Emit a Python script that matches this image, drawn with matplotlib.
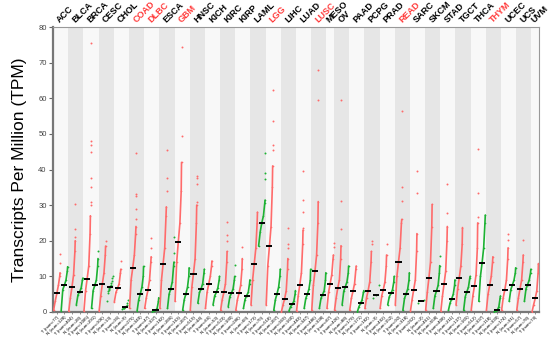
import matplotlib
matplotlib.use('Agg')
import matplotlib.pyplot as plt
import numpy as np

types = ['ACC', 'BLCA', 'BRCA', 'CESC', 'CHOL', 'COAD', 'DLBC', 'ESCA', 'GBM', 'HNSC',
         'KICH', 'KIRC', 'KIRP', 'LAML', 'LGG', 'LIHC', 'LUAD', 'LUSC', 'MESO', 'OV',
         'PAAD', 'PCPG', 'PRAD', 'READ', 'SARC', 'SKCM', 'STAD', 'TGCT', 'THCA', 'THYM',
         'UCEC', 'UCS', 'UVM']
red_types = ['COAD', 'DLBC', 'GBM', 'LGG', 'LUSC', 'READ', 'THYM']

tumor_n = [77, 404, 1085, 306, 36, 275, 47, 182, 163, 519, 66, 523, 286, 173, 518, 369,
           483, 486, 87, 426, 179, 182, 492, 92, 262, 461, 408, 137, 512, 118, 174, 57, 79]
normal_n = [128, 28, 291, 13, 9, 349, 337, 286, 207, 44, 53, 100, 60, 70, 207, 160,
            347, 338, None, 88, 171, 3, 152, 318, 2, 558, 211, 165, 337, 339, 91, 78, None]

# rank profile of each group: values at rank fractions 0, .25, .5 (median), .75, .95, 1
rank_fracs = [0.0, 0.25, 0.5, 0.75, 0.95, 1.0]
tumor_q = [
    [0.5, 3.0, 5.2, 7.5, 10, 11], [0.2, 4, 7.0, 10.5, 17, 20], [0.3, 6, 9.4, 13, 22, 27],
    [0.3, 4.5, 7.9, 11, 16, 18.5], [2.8, 5.5, 6.6, 8, 11, 12], [1, 9, 12.4, 16, 22, 24],
    [1, 4, 6.1, 9, 14, 15.5], [1, 9, 13.5, 18, 27, 29.5], [3, 14, 19.7, 25, 34, 42],
    [0.5, 7, 10.8, 15, 25, 30], [1, 5.5, 7.8, 10, 13, 14.3], [0.5, 3.5, 5.5, 8, 14, 17],
    [0.5, 3.5, 5.3, 7.5, 12, 15], [2, 9, 13.5, 18, 25, 28], [2, 13, 18.4, 24, 35, 41],
    [0, 2, 3.7, 6, 12, 15], [0.3, 4.5, 7.6, 11, 19, 23], [0.5, 7.5, 11.5, 16, 25, 31],
    [1, 5.5, 8.0, 10.5, 15, 16], [0.5, 4, 6.7, 9, 15, 18.6], [0.5, 3.8, 5.8, 8, 12, 12.9],
    [1, 4, 6.0, 8.5, 14, 17], [1, 4.5, 6.3, 8.5, 13, 16], [2, 10, 14.1, 18, 25, 26],
    [0.3, 3.5, 6.3, 9, 17, 22], [0.5, 5.5, 9.5, 14, 24, 30.2], [0.3, 4.5, 7.9, 11.5, 20, 24],
    [2, 6.5, 9.6, 13, 19, 23.7], [0.5, 4.5, 7.3, 10.5, 18, 25], [0.5, 5, 7.5, 10, 14, 15.5],
    [0.5, 4, 6.3, 9, 15, 18], [0.5, 4, 6.5, 9, 14, 16], [0, 2, 3.8, 6, 11, 13.6]]
tumor_out = [
    [13.7, 16.2], [21, 23.2, 30.2], [30, 31, 35, 37.5, 45, 47, 48, 75.6], [20], [14.3],
    [26, 29, 32.5, 33, 44.7], [18.1, 20.8], [34, 37.5, 45.5], [49.4, 74.5],
    [31, 36, 37.5, 38.2], [], [20, 21.5, 25.2], [18.3], [], [45.5, 47, 53.7, 62.4],
    [18, 19, 23.7], [23.7, 28, 31.4, 39.6], [59.4, 68], [18.3, 19.5], [23.3, 31.1, 59.5],
    [], [19, 20], [19], [31.2, 35, 56.3], [33.5, 39.6], [], [27.7, 35.8], [],
    [26.7, 33.5, 45.7], [], [20.2, 21.8], [20.2], []]

normal_q = [
    [0.3, 6.3, 7.5, 9, 11.5, 12.7], [2, 4.8, 5.6, 6.8, 9, 9.5], [1, 6, 7.5, 9, 13, 15],
    None, None, [0.3, 3.5, 5.1, 7, 10, 12.8],
    [0, 0.2, 0.45, 1, 3, 4], [1, 5, 6.5, 8.5, 13, 14], [0.5, 3.5, 5.1, 7, 10, 12.4],
    [2.5, 5.5, 6.5, 8, 11, 12], [2, 4.5, 5.5, 6.8, 9, 10], [1.5, 4.3, 5.3, 6.5, 9, 10],
    [1, 3.5, 4.6, 5.5, 8, 9], [18.5, 22.5, 25.1, 27, 30.5, 31.4], [0.5, 3.5, 5.1, 7, 10, 12],
    [0.3, 1.5, 2.2, 3, 5, 6], [1, 3.8, 5.0, 6.5, 9, 12], [1, 3.8, 4.9, 6, 9, 11],
    None, [2, 5.8, 7.1, 8.5, 11, 12.9], [0, 1.5, 2.4, 3.5, 5.5, 6],
    None, [2, 4.3, 5.2, 6.3, 8.5, 10], [0.5, 3.8, 5.1, 6.5, 9, 11],
    None, [1, 4.5, 5.9, 7.5, 11, 13], [0.5, 2.5, 3.7, 5, 7.5, 9],
    [0.5, 4.3, 5.7, 7, 9.5, 10], [3, 10, 13.7, 18, 25, 27.2], [0, 0.2, 0.45, 1.5, 4, 4.5],
    [3, 6.3, 7.6, 9, 11, 12.4], [3, 6.5, 7.7, 9, 11, 12], None]
normal_out = [
    [], [], [17], [], [], [], [], [16.5, 21.1], [], [], [], [13.1], [],
    [37.2, 39.1, 44.6], [], [], [], [], [], [], [], [], [], [], [], [15.7], [], [], [],
    [], [], [], []]
# groups with few samples: every sample value
normal_small = {
    'CESC': [3.0, 5.2, 5.8, 6.2, 6.5, 6.7, 6.9, 7.2, 7.6, 8.2, 8.8, 9.5, 10.0],
    'CHOL': [0.8, 1.0, 1.1, 1.2, 1.3, 1.6, 2.0, 2.6, 3.5],
    'PCPG': [3.8, 4.9, 7.5],
    'SARC': [2.5, 3.5],
}

RED = '#ff6b6b'
GREEN = '#1db233'
BAND_DARK = '#e6e6e6'
BAND_LIGHT = '#f8f8f8'

fig = plt.figure(figsize=(5.5, 3.37), dpi=100)
ax = fig.add_axes([53 / 550, 1 - 312 / 337, (539 - 53) / 550, (312 - 27) / 337])
ax.set_facecolor('white')

W = 0.85


def draw_group(c, vals, color, outs=None, small=None):
    if small is not None:
        v = np.array(small)
        fr = np.linspace(0.05, 0.95, len(v)) if len(v) > 1 else np.array([0.5])
        ax.scatter(c + (fr - 0.5) * W, v, s=2.0, color=color, lw=0, zorder=3)
        med = float(np.median(v))
    else:
        xs = c + (np.array(rank_fracs) - 0.5) * W
        ax.plot(xs, vals, color=color, lw=1.2, solid_capstyle='round', zorder=3,
                marker='o', ms=1.2, mew=0)
        med = vals[2]
        if outs:
            ax.scatter([c + 0.45] * len(outs), outs, s=2.0, color=color, lw=0, zorder=3)
    ax.plot([c - 0.4, c + 0.4], [med, med], color='black', lw=1.4, zorder=4,
            solid_capstyle='butt')


tick_pos = []
tick_lab = []
slot = 0
for i, t in enumerate(types):
    ng = 2 if normal_n[i] is not None else 1
    ax.axvspan(slot, slot + ng, color=(BAND_LIGHT if i % 2 == 0 else BAND_DARK),
               lw=0, zorder=0)
    ax.text(slot + ng / 2 - 0.7, 80.8, t, rotation=45, ha='left', va='bottom',
            fontsize=6.5, fontweight='bold',
            color=('#ff3b3b' if t in red_types else 'black'),
            family='Liberation Sans', clip_on=False)
    c = slot + 0.5
    draw_group(c, tumor_q[i], RED, tumor_out[i])
    tick_pos.append(c)
    tick_lab.append(f'T (num={tumor_n[i]})')
    if ng == 2:
        c2 = slot + 1.5
        draw_group(c2, normal_q[i], GREEN, normal_out[i], normal_small.get(t))
        tick_pos.append(c2)
        tick_lab.append(f'N (num={normal_n[i]})')
    slot += ng

ax.set_xlim(0, slot)
ax.set_ylim(0, 80)
ax.set_yticks(range(0, 81, 10))
ax.set_yticklabels([str(v) for v in range(0, 81, 10)], fontsize=5.5, color='#444444',
                   family='Liberation Sans')
ax.set_xticks(tick_pos)
ax.set_xticklabels(tick_lab, rotation=45, ha='right', rotation_mode='anchor',
                   fontsize=3.2, family='Liberation Sans')
ax.tick_params(axis='x', length=1.5, width=0.5, pad=1, color='#666666')
ax.tick_params(axis='y', length=3, width=0.8, pad=1.5, color='#666666')
for s in ['left', 'bottom']:
    ax.spines[s].set_color('#777777')
    ax.spines[s].set_linewidth(1.6)
for s in ['top', 'right']:
    ax.spines[s].set_color('#999999')
    ax.spines[s].set_linewidth(0.8)
ax.set_ylabel('Transcripts Per Million (TPM)', fontsize=12.5, family='Liberation Sans',
              labelpad=8)

fig.savefig('out.png', dpi=100)
